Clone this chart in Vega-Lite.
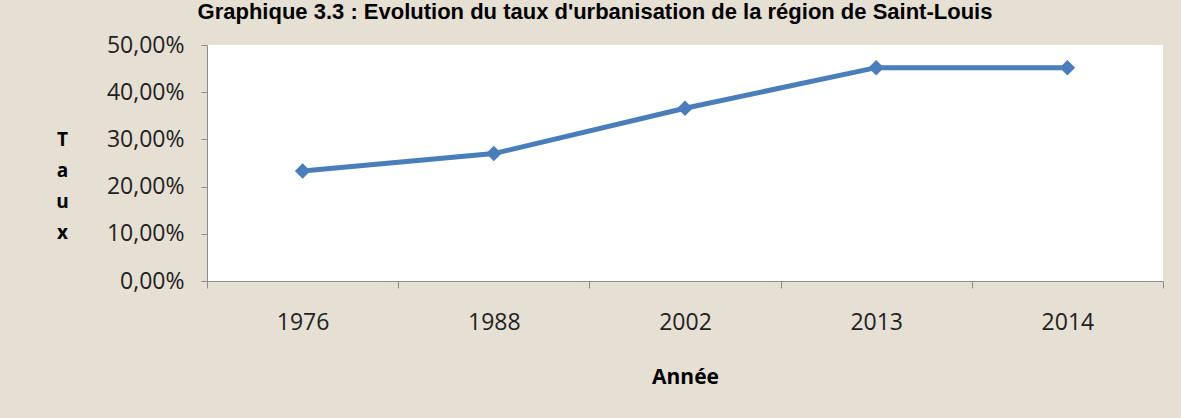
{
  "$schema": "https://vega.github.io/schema/vega-lite/v6.json",
  "width": 956,
  "height": 236,
  "autosize": {"type": "none"},
  "padding": {"left": 207, "top": 45, "right": 18, "bottom": 137},
  "background": "#e6dfd3",
  "title": {
    "text": "Graphique 3.3 : Evolution du taux d'urbanisation de la région de Saint-Louis",
    "font": "Liberation Sans",
    "fontSize": 22,
    "fontWeight": "bold",
    "color": "#000000",
    "anchor": "middle",
    "frame": "group",
    "dx": -90,
    "offset": 10
  },
  "config": {
    "view": {"fill": "#ffffff", "stroke": null},
    "axis": {"grid": false}
  },
  "data": {
    "values": [
      {"annee": "1976", "taux": 0.233},
      {"annee": "1988", "taux": 0.270},
      {"annee": "2002", "taux": 0.366},
      {"annee": "2013", "taux": 0.452},
      {"annee": "2014", "taux": 0.452}
    ]
  },
  "encoding": {
    "x": {
      "field": "annee",
      "type": "ordinal",
      "scale": {"paddingInner": 0, "paddingOuter": 0},
      "axis": {
        "title": "Année",
        "titleFont": "Open Sans",
        "titleFontSize": 21,
        "titleFontWeight": "bold",
        "titleColor": "#000000",
        "titlePadding": 32,
        "labelAngle": 0,
        "labelFont": "Open Sans",
        "labelFontSize": 23,
        "labelColor": "#222222",
        "labelPadding": 23,
        "tickBand": "extent",
        "tickSize": 7,
        "tickColor": "#8c8c8c",
        "domainColor": "#8c8c8c"
      }
    },
    "y": {
      "field": "taux",
      "type": "quantitative",
      "scale": {"domain": [0, 0.5], "nice": false},
      "axis": {
        "values": [0, 0.1, 0.2, 0.3, 0.4, 0.5],
        "labelExpr": "replace(format(datum.value, '.2%'), '.', ',')",
        "labelFont": "Open Sans",
        "labelFontSize": 23,
        "labelColor": "#222222",
        "labelPadding": 17,
        "tickSize": 6,
        "tickColor": "#8c8c8c",
        "domainColor": "#8c8c8c",
        "title": ["T", "a", "u", "x"],
        "titleAngle": 0,
        "titleFont": "Open Sans",
        "titleFontSize": 19,
        "titleFontWeight": "bold",
        "titleColor": "#000000",
        "titleLineHeight": 31,
        "titleAlign": "center",
        "titleBaseline": "middle",
        "titleX": -145,
        "titleY": 94
      }
    }
  },
  "layer": [
    {"mark": {"type": "line", "color": "#4a7ebb", "strokeWidth": 5}},
    {"mark": {"type": "point", "shape": "diamond", "filled": true, "size": 240, "color": "#4a7ebb", "opacity": 1}}
  ]
}
